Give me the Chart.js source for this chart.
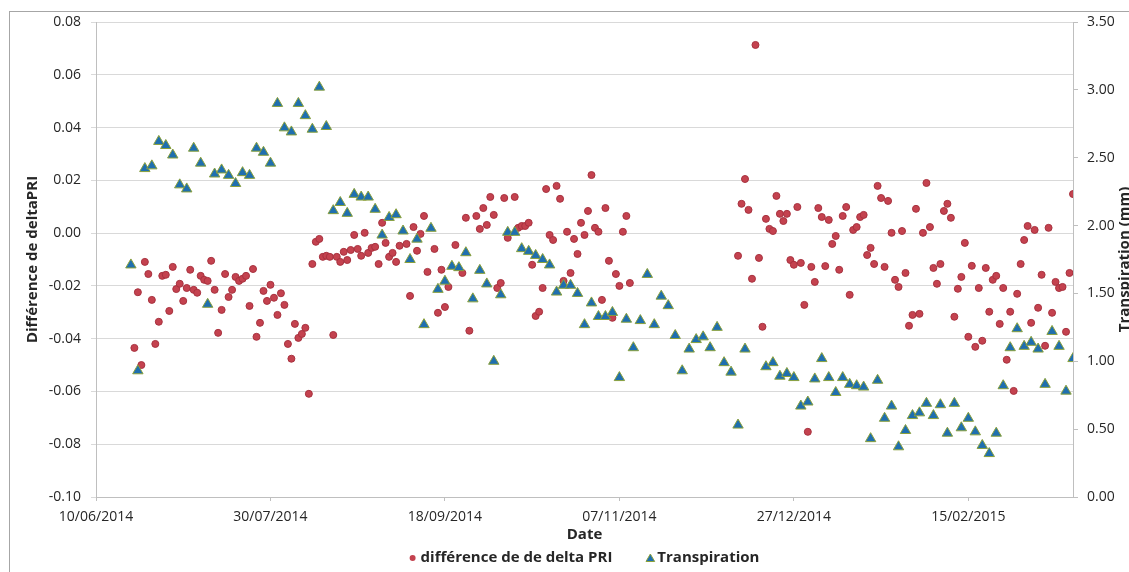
<!DOCTYPE html>
<html>
<head>
<meta charset="utf-8">
<title>Différence de delta PRI et transpiration</title>
<script src="https://cdn.jsdelivr.net/npm/chart.js@4.4.0/dist/chart.umd.min.js"></script>
<style>
  html, body { margin: 0; padding: 0; background: #fff; }
  #chart { display: block; }
</style>
</head>
<body>
<canvas id="chart" width="1129" height="572"></canvas>
<script>
// x values are days counted from 10/06/2014
const xTickDays = [0, 50, 100, 150, 200, 250];
const xTickLabels = ['10/06/2014', '30/07/2014', '18/09/2014', '07/11/2014', '27/12/2014', '15/02/2015'];

const priDays = [
  11, 12, 13, 14, 15, 16, 17, 18, 19, 20,
  21, 22, 23, 24, 25, 26, 27, 28, 29, 30,
  31, 32, 33, 34, 35, 36, 37, 38, 39, 40,
  41, 42, 43, 44, 45, 46, 47, 48, 49, 50,
  51, 52, 53, 54, 55, 56, 57, 58, 59, 60,
  61, 62, 63, 64, 65, 66, 67, 68, 69, 70,
  71, 72, 73, 74, 75, 76, 77, 78, 79, 80,
  81, 82, 83, 84, 85, 86, 87,
  89, 90, 91, 92, 93, 94, 95,
  97, 98, 99, 100, 101,
  103,
  105, 106, 107,
  109, 110, 111, 112, 113, 114, 115, 116, 117, 118,
  120, 121, 122, 123, 124, 125, 126, 127, 128, 129,
  130, 131, 132, 133, 134, 135, 136, 137, 138, 139,
  140, 141, 142, 143, 144, 145, 146, 147, 148, 149,
  150, 151, 152, 153,
  184, 185, 186, 187, 188, 189, 190, 191, 192, 193,
  194, 195, 196, 197, 198, 199, 200, 201, 202, 203,
  204, 205, 206, 207, 208, 209, 210, 211, 212, 213,
  214, 215, 216, 217, 218, 219, 220, 221, 222, 223,
  224, 225, 226, 227, 228, 229, 230, 231, 232, 233,
  234, 235, 236, 237, 238, 239, 240, 241, 242, 243,
  244, 245, 246, 247, 248, 249, 250, 251, 252, 253,
  254, 255, 256, 257, 258, 259, 260, 261, 262, 263,
  264, 265, 266, 267, 268, 269, 270, 271, 272, 273,
  274, 275, 276, 277, 278, 279, 280
];
const priValues = [
  -0.0435, -0.0224, -0.0500, -0.0109, -0.0155, -0.0253, -0.0420, -0.0336, -0.0162, -0.0158,
  -0.0295, -0.0128, -0.0212, -0.0192, -0.0257, -0.0208, -0.0139, -0.0215, -0.0226, -0.0162,
  -0.0177, -0.0181, -0.0105, -0.0215, -0.0378, -0.0291, -0.0155, -0.0242, -0.0215, -0.0166,
  -0.0181, -0.0173, -0.0162, -0.0276, -0.0136, -0.0393, -0.0340, -0.0219, -0.0257, -0.0196,
  -0.0245, -0.0310, -0.0228, -0.0272, -0.0420, -0.0476, -0.0344, -0.0397, -0.0382, -0.0359,
  -0.0609, -0.0117, -0.0033, -0.0022, -0.0090, -0.0086, -0.0090, -0.0386, -0.0090, -0.0109,
  -0.0071, -0.0102, -0.0064, -0.0007, -0.0060, -0.0086, 0.0001, -0.0075, -0.0056, -0.0052,
  -0.0117, 0.0039, -0.0037, -0.0090, -0.0075, -0.0109, -0.0048,
  -0.0041, -0.0238, 0.0023, -0.0067, -0.0003, 0.0065, -0.0147,
  -0.0060, -0.0302, -0.0139, -0.0280, -0.0204,
  -0.0045,
  -0.0151, 0.0058, -0.0370,
  0.0065, 0.0016, 0.0095, 0.0031, 0.0137, 0.0069, -0.0208, -0.0189, 0.0133, -0.0018,
  0.0137, 0.0020, 0.0027, 0.0027, 0.0039, -0.0120, -0.0314, -0.0298, -0.0208, 0.0167,
  -0.0007, -0.0026, 0.0179, 0.0130, -0.0181, 0.0005, -0.0151, -0.0022, -0.0079, 0.0039,
  -0.0007, 0.0084, 0.0220, 0.0020, 0.0005, -0.0253, 0.0095, -0.0105, -0.0321, -0.0155,
  -0.0200, 0.0005, 0.0065, -0.0189,
  -0.0086, 0.0111, 0.0205, 0.0088, -0.0173, 0.0713, -0.0094, -0.0355, 0.0054, 0.0016,
  0.0008, 0.0141, 0.0073, 0.0046, 0.0073, -0.0102, -0.0120, 0.0099, -0.0113, -0.0272,
  -0.0753, -0.0128, -0.0185, 0.0095, 0.0061, -0.0125, 0.0050, -0.0041, -0.0011, -0.0139,
  0.0065, 0.0099, -0.0234, 0.0012, 0.0023, 0.0061, 0.0069, -0.0083, -0.0056, -0.0117,
  0.0179, 0.0133, -0.0128, 0.0122, 0.0001, -0.0177, -0.0204, 0.0008, -0.0151, -0.0351,
  -0.0310, 0.0092, -0.0306, 0.0001, 0.0190, 0.0023, -0.0132, -0.0192, -0.0117, 0.0084,
  0.0111, 0.0058, -0.0317, -0.0211, -0.0166, -0.0037, -0.0393, -0.0124, -0.0431, -0.0208,
  -0.0408, -0.0132, -0.0298, -0.0177, -0.0162, -0.0344, -0.0208, -0.0480, -0.0298, -0.0598,
  -0.0230, -0.0117, -0.0026, 0.0027, -0.0340, 0.0012, -0.0283, -0.0158, -0.0427, 0.0020,
  -0.0302, -0.0185, -0.0208, -0.0204, -0.0374, -0.0151, 0.0148
];

const trDays = [
  10, 12, 14, 16, 18, 20, 22, 24, 26, 28,
  30, 32, 34, 36, 38, 40, 42, 44, 46, 48,
  50, 52, 54, 56, 58, 60, 62, 64, 66, 68,
  70, 72, 74, 76, 78, 80, 82, 84, 86, 88,
  90, 92, 94, 96, 98, 100, 102, 104, 106, 108,
  110, 112, 114, 116, 118, 120, 122, 124, 126, 128,
  130, 132, 134, 136, 138, 140, 142, 144, 146, 148,
  150, 152, 154, 156, 158, 160, 162, 164, 166, 168,
  170, 172, 174, 176, 178, 180, 182, 184, 186,
  192, 194, 196, 198, 200, 202, 204, 206, 208, 210,
  212, 214, 216, 218, 220, 222, 224, 226, 228, 230,
  232, 234, 236, 238, 240, 242, 244, 246, 248, 250,
  252, 254, 256, 258, 260, 262, 264, 266, 268, 270,
  272, 274, 276, 278, 280
];
const trValues = [
  1.71, 0.93, 2.42, 2.44, 2.62, 2.59, 2.52, 2.30, 2.27, 2.57,
  2.46, 1.42, 2.38, 2.41, 2.37, 2.31, 2.39, 2.37, 2.57, 2.54,
  2.46, 2.90, 2.72, 2.69, 2.90, 2.81, 2.71, 3.02, 2.73, 2.11,
  2.17, 2.09, 2.23, 2.21, 2.21, 2.12, 1.93, 2.06, 2.08, 1.96,
  1.75, 1.90, 1.27, 1.98, 1.53, 1.59, 1.70, 1.69, 1.80, 1.46,
  1.67, 1.57, 1.00, 1.49, 1.95, 1.95, 1.83, 1.81, 1.78, 1.75,
  1.71, 1.51, 1.56, 1.56, 1.50, 1.27, 1.43, 1.33, 1.33, 1.36,
  0.88, 1.31, 1.10, 1.30, 1.64, 1.27, 1.48, 1.41, 1.19, 0.93,
  1.09, 1.16, 1.18, 1.10, 1.25, 0.99, 0.92, 0.53, 1.09,
  0.96, 0.99, 0.89, 0.91, 0.88, 0.67, 0.70, 0.87, 1.02, 0.88,
  0.77, 0.88, 0.83, 0.82, 0.81, 0.43, 0.86, 0.58, 0.67, 0.37,
  0.49, 0.60, 0.62, 0.69, 0.60, 0.68, 0.47, 0.69, 0.51, 0.58,
  0.48, 0.38, 0.32, 0.47, 0.82, 1.10, 1.24, 1.11, 1.14, 1.09,
  0.83, 1.22, 1.11, 0.78, 1.02
];

const textColor = '#262626';
const redFill = '#C4424F';
const redLine = '#A8323F';
const blueFill = '#1F6FAF';
const greenLine = '#8AA03C';

Chart.defaults.font.family = "'Open Sans', sans-serif";
Chart.defaults.color = textColor;

// white background, outer frame, right title and legend
const decorPlugin = {
  id: 'decor',
  beforeDraw(chart) {
    const ctx = chart.ctx;
    ctx.save();
    ctx.fillStyle = '#fff';
    ctx.fillRect(0, 0, chart.width, chart.height);
    ctx.strokeStyle = '#A6A6A6';
    ctx.lineWidth = 1;
    ctx.strokeRect(9.5, 11.5, chart.width + 20, chart.height + 20);
    ctx.restore();
  },
  afterDraw(chart) {
    const ctx = chart.ctx;
    const area = chart.chartArea;

    // right axis title reads bottom to top, like the left one
    ctx.save();
    ctx.font = "bold 15px 'Open Sans'";
    ctx.fillStyle = textColor;
    ctx.textAlign = 'center';
    ctx.textBaseline = 'middle';
    ctx.translate(1125, (area.top + area.bottom) / 2);
    ctx.rotate(-Math.PI / 2);
    ctx.fillText('Transpiration (mm)', 0, 0);
    ctx.restore();

    // legend
    ctx.save();
    ctx.font = "bold 15px 'Open Sans'";
    ctx.fillStyle = textColor;
    ctx.textBaseline = 'middle';
    const labels = chart.data.datasets.map(d => d.label);
    const w1 = ctx.measureText(labels[1]).width;
    const w0 = ctx.measureText(labels[0]).width;
    const total = 11 + w1 + 34 + 11 + w0;
    const y = 558;
    let x = (area.left + area.right) / 2 - total / 2;

    ctx.beginPath();
    ctx.arc(x + 3, y, 3, 0, Math.PI * 2);
    ctx.fillStyle = redFill;
    ctx.fill();
    ctx.fillStyle = textColor;
    ctx.fillText(labels[1], x + 11, y);

    x += 11 + w1 + 34;
    const r = 5;
    ctx.beginPath();
    ctx.moveTo(x + 4, y + 1 - r);
    ctx.lineTo(x + 4 + r * 0.866, y + 1 + r / 2);
    ctx.lineTo(x + 4 - r * 0.866, y + 1 + r / 2);
    ctx.closePath();
    ctx.fillStyle = blueFill;
    ctx.fill();
    ctx.strokeStyle = greenLine;
    ctx.stroke();
    ctx.fillStyle = textColor;
    ctx.fillText(labels[0], x + 11, y);
    ctx.restore();
  }
};

new Chart(document.getElementById('chart'), {
  type: 'scatter',
  data: {
    datasets: [
      {
        label: 'Transpiration',
        data: trDays.map((d, i) => ({ x: d, y: trValues[i] })),
        yAxisID: 'y2',
        order: 0,
        pointStyle: 'triangle',
        pointRadius: 6,
        backgroundColor: blueFill,
        borderColor: greenLine,
        borderWidth: 1
      },
      {
        label: 'différence de de delta PRI',
        data: priDays.map((d, i) => ({ x: d, y: priValues[i] })),
        yAxisID: 'y',
        order: 1,
        pointStyle: 'circle',
        pointRadius: 3.5,
        backgroundColor: redFill,
        borderColor: redLine,
        borderWidth: 1
      }
    ]
  },
  options: {
    responsive: false,
    animation: false,
    layout: { padding: { left: 0, right: 0, top: 22, bottom: 0 } },
    plugins: {
      legend: { display: false },
      tooltip: { enabled: false }
    },
    scales: {
      x: {
        type: 'linear',
        position: 'bottom',
        min: 0,
        max: 280,
        afterBuildTicks: s => { s.ticks = xTickDays.map(v => ({ value: v })); },
        afterFit: s => { s.height = 75; },
        ticks: {
          font: { size: 14 },
          padding: 8,
          maxRotation: 0,
          autoSkip: false,
          callback: v => xTickLabels[xTickDays.indexOf(v)]
        },
        grid: { drawOnChartArea: false, tickLength: 4, color: '#BFBFBF' },
        border: { color: '#BFBFBF' },
        title: {
          display: true,
          text: 'Date',
          font: { size: 15, weight: 'bold' },
          padding: { top: 0, bottom: 28 }
        }
      },
      y: {
        position: 'left',
        min: -0.1,
        max: 0.08,
        afterFit: s => { s.width = 96; },
        ticks: {
          stepSize: 0.02,
          font: { size: 14 },
          padding: 10,
          callback: v => (Math.abs(v) < 1e-9 ? 0 : v).toFixed(2)
        },
        grid: { color: '#D9D9D9', tickLength: 5 },
        border: { color: '#BFBFBF' },
        title: {
          display: true,
          text: 'Différence de deltaPRI',
          font: { size: 15, weight: 'bold' },
          padding: { top: 24, bottom: 0 }
        }
      },
      y2: {
        position: 'right',
        min: 0,
        max: 3.5,
        afterFit: s => { s.width = 56; },
        ticks: {
          stepSize: 0.5,
          font: { size: 14 },
          padding: 9,
          callback: v => v.toFixed(2)
        },
        grid: { drawOnChartArea: false, tickLength: 5, color: '#BFBFBF' },
        border: { color: '#BFBFBF' }
      }
    }
  },
  plugins: [decorPlugin]
});
</script>
</body>
</html>
